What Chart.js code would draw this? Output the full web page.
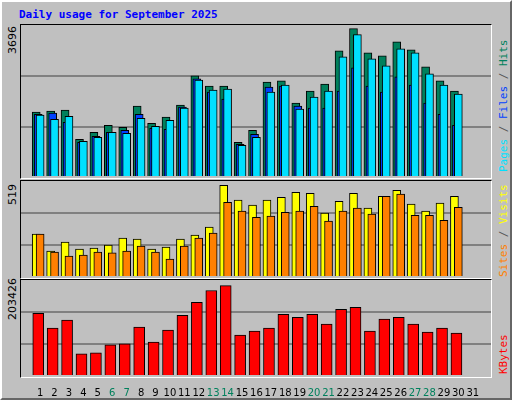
<!DOCTYPE html>
<html lang="en">
<head>
<meta charset="UTF-8" />
<script src="https://cdn.jsdelivr.net/npm/chart.js@4"></script>
<title>Daily usage</title>
<style>
  body{margin:0;width:512px;height:400px;background:#c0c0c0;position:relative;overflow:hidden;font-family:"DejaVu Sans",sans-serif}
  #frame{position:absolute;left:0;top:0;width:508px;height:396px;border-top:2px solid #fff;border-left:2px solid #fff;border-right:2px solid #666;border-bottom:2px solid #666}
  #title{position:absolute;left:19px;top:8px;font:bold 11px "DejaVu Sans Mono",monospace;color:#0000ff}
  .panel{position:absolute;left:20px;width:470px;border-top:1px solid #000;border-left:1px solid #000;border-right:1px solid #fff;border-bottom:1px solid #fff}
  canvas{position:absolute}
  .rot{position:absolute;transform-origin:left top;transform:rotate(-90deg);white-space:nowrap;font-size:11px}
  .mono{font-family:"DejaVu Sans Mono",monospace;font-size:11px}
</style>
</head>
<body>
<div id="frame"></div>
<div id="title">Daily usage for September 2025</div>
<div class="panel" style="top:24px;height:153px"></div>
<div class="panel" style="top:180px;height:97px"></div>
<div class="panel" style="top:279px;height:97px"></div>
<div class="rot" id="max0" style="left:6px;top:54px"></div>
<div class="rot" id="max1" style="left:6px;top:205px"></div>
<div class="rot" id="max2" style="left:6px;top:320px"></div>
<div class="rot mono" style="left:497px;top:172px"><span style="color:#00e0ff">Pages</span><span style="color:#555"> / </span><span style="color:#0040ff">Files</span><span style="color:#555"> / </span><span style="color:#00805c">Hits</span></div>
<div class="rot mono" style="left:497px;top:277px"><span style="color:#ff8000">Sites</span><span style="color:#555"> / </span><span style="color:#ffff00">Visits</span></div>
<div class="rot mono" style="left:497px;top:374px"><span style="color:#ff0000">KBytes</span></div>
<canvas id="c0" style="left:21px;top:26px" width="470" height="151"></canvas>
<canvas id="c1" style="left:21px;top:181px" width="470" height="96"></canvas>
<canvas id="c2" style="left:21px;top:280px" width="470" height="116"></canvas>
<script>
const days = Array.from({length: 31}, (_, i) => i + 1);
const weekends = [6, 7, 13, 14, 20, 21, 27, 28];
const axisMax = [3696, 519, 203426];

const hits = [1587,1611,1636,921,1094,1266,1217,1735,1316,1464,1759,2474,2227,2227,848,1143,2326,2351,1809,2104,2277,3090,3632,3040,2967,3311,3114,2696,2351,2104,0];
const files = [1537,1562,1340,848,995,1094,1143,1537,1193,1168,1710,2400,2080,1907,798,1045,2203,2227,1735,1685,1685,2104,2671,2227,2080,2449,2252,1809,1537,1266,0];
const pages = [1513,1414,1488,872,970,1094,1069,1439,1242,1390,1685,2375,2129,2153,774,970,2080,2252,1661,1956,2104,2942,3484,2893,2720,3139,3040,2523,2252,2030,0];
const visits = [232,140,189,151,156,172,210,205,151,162,205,227,270,496,416,389,416,431,458,453,345,409,453,372,436,469,394,356,399,436,0];
const sites = [232,135,113,118,135,130,140,167,135,97,167,210,237,404,356,323,329,350,356,382,302,356,372,340,436,448,334,334,307,377,0];
const kbytes = [132950,101500,118270,46970,49070,65850,67940,103590,72140,97300,128760,156020,181180,191670,86820,95200,101500,130850,124560,130850,109880,141340,145530,95200,120370,124560,109880,93100,101500,91010,0];

['max0', 'max1', 'max2'].forEach((id, i) => document.getElementById(id).textContent = axisMax[i]);

// order: the lower number is drawn on top
function series(vals, off, color, width, order) {
  return {
    data: days.map((d, i) => ({x: d + off, y: vals[i]})),
    backgroundColor: color, borderColor: '#000', borderWidth: 1,
    barThickness: width, borderSkipped: 'bottom', grouped: false, order: order
  };
}

function panel(id, max, datasets, showDays) {
  new Chart(document.getElementById(id), {
    type: 'bar',
    data: {datasets},
    options: {
      responsive: false, animation: false,
      layout: {padding: 0},
      plugins: {legend: {display: false}, tooltip: {enabled: false}},
      scales: {
        x: {
          type: 'linear', min: 0.2, max: 31.74, display: showDays,
          grid: {display: false}, border: {display: false},
          afterBuildTicks: s => { s.ticks = days.map(v => ({value: v})); },
          afterFit: s => { if (showDays) s.height = 20; },
          ticks: {
            padding: 3, autoSkip: false, maxRotation: 0,
            font: {family: 'DejaVu Sans', size: 10},
            color: c => weekends.includes(c.tick.value) ? '#00805c' : '#000'
          }
        },
        y: {
          min: 0, max: max,
          afterFit: s => { s.width = 0; },
          ticks: {display: false, stepSize: max / 3},
          border: {display: false},
          grid: {color: c => (c.index === 1 || c.index === 2) ? '#808080' : 'rgba(0,0,0,0)', lineWidth: 2, drawTicks: false}
        }
      }
    }
  });
}

panel('c0', axisMax[0], [
  series(hits, -0.27, '#00805c', 8, 3),
  series(files, -0.13, '#0040ff', 8, 2),
  series(pages, 0.0, '#00e0ff', 8, 1)
], false);
panel('c1', axisMax[1], [
  series(visits, -0.27, '#ffff00', 8, 2),
  series(sites, 0.0, '#ff8000', 8, 1)
], false);
panel('c2', axisMax[2], [
  series(kbytes, -0.13, '#ff0000', 11, 1)
], true);
</script>
</body>
</html>
